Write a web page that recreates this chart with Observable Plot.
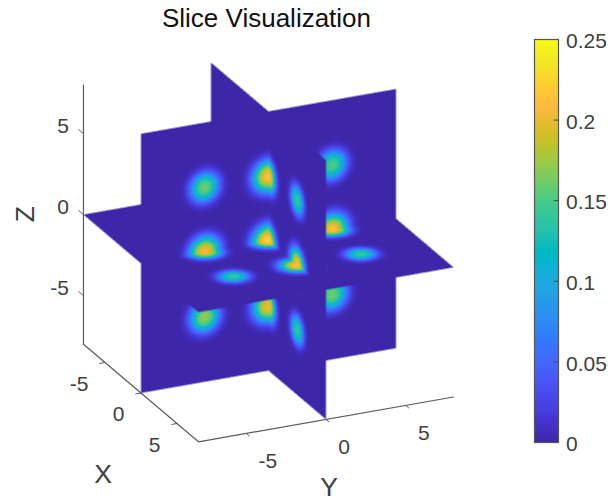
<!DOCTYPE html>
<html>
<head>
<meta charset="utf-8">
<script src="https://cdn.jsdelivr.net/npm/d3@7"></script>
<script src="https://cdn.jsdelivr.net/npm/@observablehq/plot@0.6"></script>
<style>
html,body{margin:0;padding:0;background:#fff}
#page{position:relative;width:608px;height:502px;overflow:hidden}
#page svg{position:absolute;top:0;background:transparent}
</style>
</head>
<body>
<div id="page"></div>
<script>
// ---- values ----
const title = "Slice Visualization";
const axisLimit = 8;
const ticks3d = [-5, 0, 5];
const colorTicks = [0, 0.05, 0.1, 0.15, 0.2, 0.25];
const colorDomain = [0, 0.25];

// Blob centres on the slices, their peak values and squared widths.
const blobX     = [0,     0,     0,     0,     0,     4,     0,     0,     0,     0,     4,     4,     4,     4];
const blobY     = [0,    -4,     4,     0,     0,     0,    -4,     4,    -4,     4,     0,     0,    -4,     4];
const blobZ     = [0,     0,     0,     4,    -4,     0,     4,     4,    -4,    -4,     4,    -4,     0,     0];
const blobPeak  = [0.225, 0.205, 0.21,  0.21,  0.2,   0.21,  0.16,  0.15,  0.17,  0.16,  0.14,  0.14,  0.14,  0.14];
const blobWidth = [1.05,  0.95,  0.95,  0.95,  0.95,  1.05,  0.8,   0.8,   0.85,  0.85,  0.8,   0.8,   0.8,   0.8];
const blobFalloff = 1.3;

// Projected size of one data unit along X, Y, Z (view of the 3-D box).
const uPerUnit = [7.19, 15.94, 0];
const vPerUnit = [-6.1, 2.8, 16.2];

// MATLAB parula, 64 levels
const parula = ["#3e26a8","#402ab4","#4230bf","#4332cb","#4537d5","#4641de","#4741e5","#4747eb","#484df0","#4852f4","#4758f8","#465efb","#4563fd","#4269fe","#3e6fff","#3875fe","#327bfc","#2f81fa","#2d87f7","#2d8cf3","#2b91ef","#2796eb","#2598e7","#23a0e5","#20a5e3","#1ca9df","#18addb","#12b1d6","#08b5d0","#01b8ca","#02bac3","#0bbdbc","#19bfb6","#24c1ae","#2cc3a7","#31c69f","#37c897","#3fca8e","#4acb84","#57cc7a","#64cd6f","#72cd64","#81cc59","#8fcb4e","#9dc943","#abc739","#b9c431","#c5c22a","#d1bf27","#dcbd29","#e6bb2d","#efba36","#f8ba3d","#febe3c","#fec338","#fec934","#fccf30","#f9d62d","#f7dc2a","#f5e327","#f5e924","#f6ef20","#f7f51b","#f9fb15"];
const parulaInterp = d3.piecewise(d3.interpolateRgb, parula);
const colorScale = {type: "linear", domain: colorDomain, interpolate: parulaInterp};

// ---- projection helpers ----
const U = (p) => uPerUnit[0]*p[0] + uPerUnit[1]*p[1] + uPerUnit[2]*p[2];
const V = (p) => vPerUnit[0]*p[0] + vPerUnit[1]*p[1] + vPerUnit[2]*p[2];
// camera direction = U x V
const cam = [
  uPerUnit[1]*vPerUnit[2] - uPerUnit[2]*vPerUnit[1],
  uPerUnit[2]*vPerUnit[0] - uPerUnit[0]*vPerUnit[2],
  uPerUnit[0]*vPerUnit[1] - uPerUnit[1]*vPerUnit[0]
];
const axesPairs = [[1,2],[0,2],[0,1]]; // free axes for slices x=0, y=0, z=0

function field(p) {
  let s = 0;
  for (let i = 0; i < blobPeak.length; ++i) {
    const dx = p[0]-blobX[i], dy = p[1]-blobY[i], dz = p[2]-blobZ[i];
    const r2 = dx*dx + dy*dy + dz*dz;
    if (r2 < 9) s += blobPeak[i]*Math.exp(-Math.pow(r2/blobWidth[i], blobFalloff));
  }
  return s;
}
// front-most slice seen at projected position (u,v)
function sliceValue(u, v) {
  let best = null, bestDepth = -Infinity;
  for (const [a, b] of axesPairs) {
    const det = uPerUnit[a]*vPerUnit[b] - uPerUnit[b]*vPerUnit[a];
    const pa = (u*vPerUnit[b] - v*uPerUnit[b]) / det;
    const pb = (uPerUnit[a]*v - vPerUnit[a]*u) / det;
    if (Math.abs(pa) > axisLimit || Math.abs(pb) > axisLimit) continue;
    const p = [0, 0, 0]; p[a] = pa; p[b] = pb;
    const depth = p[0]*cam[0] + p[1]*cam[1] + p[2]*cam[2];
    if (depth > bestDepth) { bestDepth = depth; best = p; }
  }
  return best ? field(best) : NaN;
}

// ---- 3-D axes ----
const L = axisLimit;
const axisCorners = [[-L,-L,L],[-L,-L,-L],[L,-L,-L],[L,L,-L]];
const zTicks = ticks3d.map(t => ({t, p:[-L,-L,t], q:[-L-0.7,-L,t]}));
const xTicks = ticks3d.map(t => ({t, p:[t,-L,-L], q:[t,-L-0.35,-L]}));
const yTicks = ticks3d.map(t => ({t, p:[L,t,-L], q:[L+0.45,t,-L]}));
const allTicks = [...zTicks, ...xTicks, ...yTicks];
const axisColor = "#5a5a5a", textColor = "#404040";
const fontFamily = "'Liberation Sans', Arial, sans-serif";

const main = Plot.plot({
  width: 608, height: 502,
  marginTop: 0, marginRight: 0, marginBottom: 0, marginLeft: 0,
  style: {fontFamily, background: "transparent"},
  x: {domain: [-268, 340], range: [0, 608], axis: null},
  y: {domain: [-261.5, 240.5], range: [502, 0], axis: null},
  color: colorScale,
  marks: [
    Plot.line(axisCorners, {x: U, y: V, stroke: axisColor, strokeWidth: 1.2}),
    Plot.link(allTicks, {x1: d => U(d.p), y1: d => V(d.p), x2: d => U(d.q), y2: d => V(d.q), stroke: axisColor, strokeWidth: 1}),
    Plot.raster({
      x1: -268, x2: 340, y1: -261.5, y2: 240.5,
      pixelSize: 0.5, imageRendering: "auto",
      fill: sliceValue
    }),
    Plot.text(zTicks, {x: d => U(d.p), y: d => V(d.p), text: d => String(d.t), textAnchor: "end", dx: -14.5, dy: -7.6, fontSize: 21, fill: textColor}),
    Plot.text(xTicks, {x: d => U(d.p), y: d => V(d.p), text: d => String(d.t), textAnchor: "end", dx: -16.5, dy: 21.5, fontSize: 21, fill: textColor}),
    Plot.text(yTicks, {x: d => U(d.p), y: d => V(d.p), text: d => String(d.t), textAnchor: "start", dx: 12.3, dy: 27.7, fontSize: 21, fill: textColor}),
    Plot.text([[0,-L,-L]], {x: U, y: V, text: ["X"], dx: -38, dy: 81.5, fontSize: 26.5, fill: textColor}),
    Plot.text([[L,0,-L]], {x: U, y: V, text: ["Y"], dx: 3, dy: 68, fontSize: 26.5, fill: textColor}),
    Plot.text([[-L,-L,0]], {x: U, y: V, text: ["Z"], dx: -57.5, dy: -0.5, rotate: -90, fontSize: 26.5, fill: textColor}),
    Plot.text([title], {frameAnchor: "top-left", dx: 266, dy: 18.5, textAnchor: "middle", lineAnchor: "middle", fontSize: 26, fill: "#111"})
  ]
});

const bar = Plot.plot({
  width: 74, height: 502,
  marginTop: 39, marginBottom: 60, marginLeft: 0, marginRight: 50,
  style: {fontFamily, background: "transparent", overflow: "visible"},
  x: {domain: [0, 1], axis: null},
  y: {domain: colorDomain},
  color: colorScale,
  marks: [
    Plot.raster({x1: 0, x2: 1, y1: 0, y2: 0.25, width: 1, height: 403, imageRendering: "auto", fill: (x, y) => y}),
    Plot.ruleY(colorTicks.slice(1, -1), {y: d => d, x1: 0.82, x2: 1, stroke: "#444", strokeWidth: 1}),
    Plot.frame({stroke: "#555", strokeWidth: 1.2}),
    Plot.axisY(colorTicks, {anchor: "right", tickSize: 0, tickPadding: 7.5, label: null, tickFormat: d => String(d), fontSize: 21, fill: textColor, textAnchor: "start", dy: 2})
  ]
});
bar.style.left = "534px";

const page = document.getElementById("page");
page.append(main, bar);
</script>
</body>
</html>
